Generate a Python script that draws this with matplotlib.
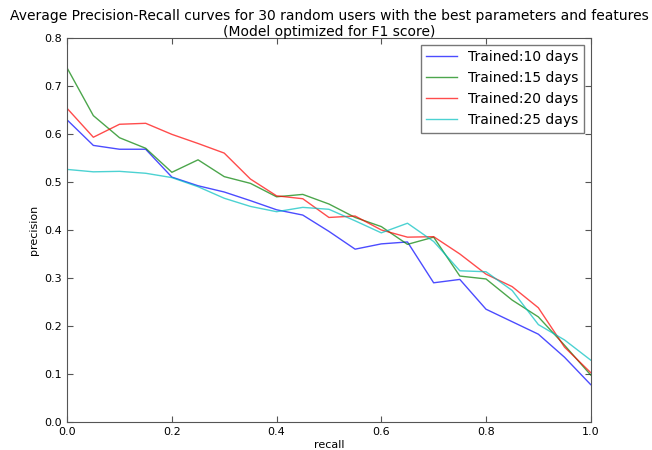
import numpy as np
import matplotlib
matplotlib.use("Agg")
import matplotlib.pyplot as plt

# recall points (every 0.05)
recall = np.linspace(0, 1, 21)

prec_10 = [0.629, 0.576, 0.568, 0.568, 0.510, 0.492, 0.479, 0.461, 0.442, 0.431, 0.397,
           0.360, 0.371, 0.375, 0.290, 0.297, 0.235, 0.209, 0.183, 0.135, 0.078]
prec_15 = [0.737, 0.638, 0.592, 0.570, 0.520, 0.546, 0.511, 0.497, 0.469, 0.474, 0.454,
           0.426, 0.407, 0.370, 0.385, 0.304, 0.298, 0.254, 0.219, 0.160, 0.098]
prec_20 = [0.653, 0.593, 0.620, 0.622, 0.599, 0.580, 0.560, 0.506, 0.471, 0.465, 0.426,
           0.429, 0.400, 0.385, 0.386, 0.350, 0.308, 0.282, 0.238, 0.156, 0.103]
prec_25 = [0.526, 0.521, 0.522, 0.518, 0.509, 0.490, 0.466, 0.449, 0.438, 0.447, 0.443,
           0.419, 0.394, 0.414, 0.376, 0.315, 0.313, 0.274, 0.203, 0.171, 0.129]

series = [prec_10, prec_15, prec_20, prec_25]
labels = ['Trained:10 days', 'Trained:15 days', 'Trained:20 days', 'Trained:25 days']
colors = ['b', 'g', 'r', 'c']

fig = plt.figure(figsize=(6.52, 4.5), dpi=100)
ax = fig.add_axes([0.103, 0.062, 0.803, 0.854])

for p, lab, col in zip(series, labels, colors):
    ax.plot(recall, p, color=col, alpha=0.7, linewidth=1.0, label=lab)

ax.set_xlim(0, 1)
ax.set_ylim(0, 0.8)
ax.set_xticks(np.arange(0, 1.01, 0.2))
ax.set_yticks(np.arange(0, 0.81, 0.1))
ax.tick_params(direction='in', top=True, right=True, labelsize=8, length=4, color='#555555')
for s in ax.spines.values():
    s.set_color('#555555')
ax.set_xlabel('recall', fontsize=8, labelpad=2)
ax.set_ylabel('precision', fontsize=8)
ax.set_title('Average Precision-Recall curves for 30 random users with the best parameters and features\n(Model optimized for F1 score)',
             fontsize=10, pad=1)
leg = ax.legend(loc='upper right', fontsize=10, fancybox=False, handlelength=2.2)
leg.get_frame().set_edgecolor('#555555')

fig.savefig('out.png', dpi=100)
